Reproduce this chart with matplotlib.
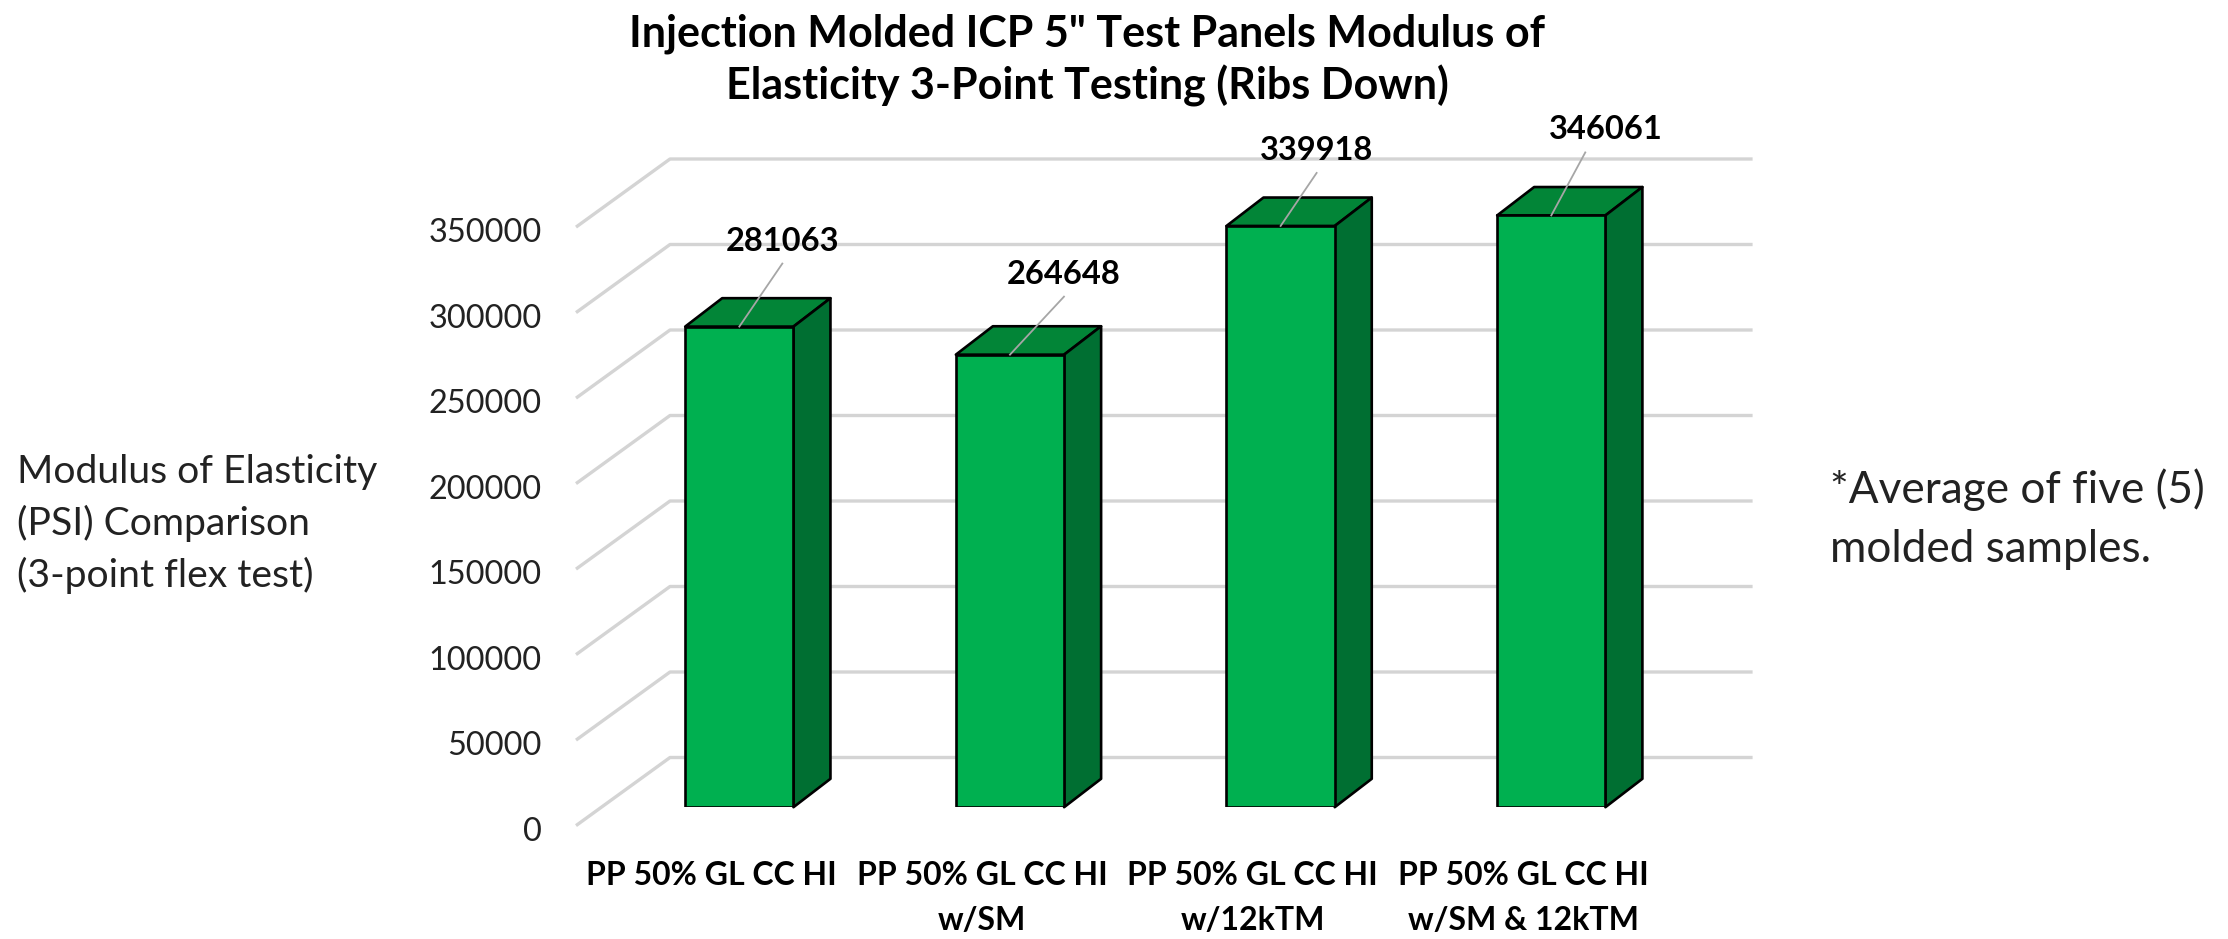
import matplotlib
matplotlib.use("Agg")
import matplotlib.pyplot as plt
from matplotlib.lines import Line2D
from matplotlib.patches import Polygon
from matplotlib.transforms import IdentityTransform, ScaledTranslation

plt.rcParams['font.family'] = ['Lato', 'DejaVu Sans']

# ---- data ----
categories = ['PP 50% GL CC HI', 'PP 50% GL CC HI\nw/SM',
              'PP 50% GL CC HI\nw/12kTM', 'PP 50% GL CC HI\nw/SM & 12kTM']
values = [281063, 264648, 339918, 346061]
y_ticks = [0, 50000, 100000, 150000, 200000, 250000, 300000, 350000]
title = 'Injection Molded ICP 5" Test Panels Modulus of\nElasticity 3-Point Testing (Ribs Down)'
y_note = ['Modulus of Elasticity', '(PSI) Comparison', '(3-point flex test)']
side_note = ['*Average of five (5)', 'molded samples.']

# ---- layout (pixels) ----
W, H = 2228, 939
DPI = 100
FRONT = (-28, -18.4)    # floor front edge relative to bar plane
BACK = (66, 49.7)       # back wall relative to bar plane
DEPTH = (37, 28.4)      # depth of the bars
LEADER = [(43, 63), (54, 58), (36, 53), (34, 63)]
LABEL = [(43, 85), (54, 80), (36, 75), (55, 86)]

fig = plt.figure(figsize=(W / DPI, H / DPI), dpi=DPI, facecolor='white')
ax_l, ax_r, ax_t, ax_b = 604, 1686.6, 208.7, 807.2
ax = fig.add_axes([ax_l / W, 1 - ax_b / H, (ax_r - ax_l) / W, (ax_b - ax_t) / H])
ax.set_xlim(-0.5, 3.5)
ax.set_ylim(0, 350000)
ax.patch.set_visible(False)
for s in ax.spines.values():
    s.set_visible(False)


def proj(x, v, shift=(0, 0)):
    px, py = ax.transData.transform((x, v))
    return px + shift[0], py + shift[1]


for t in y_ticks:
    a = proj(-0.5, t, FRONT)
    b = proj(-0.5, t, BACK)
    c = proj(3.5, t, BACK)
    ax.add_line(Line2D([a[0], b[0], c[0]], [a[1], b[1], c[1]], transform=IdentityTransform(),
                       color='#d4d4d4', lw=2.4, solid_capstyle='butt', zorder=0.5, clip_on=False))

xpos = list(range(len(categories)))
width = 0.4
EDGE = dict(edgecolor='black', linewidth=1.9)
ax.bar(xpos, values, width=width, color='#00B050', zorder=3, **EDGE)
for x, h in zip(xpos, values):
    l, r = x - width / 2, x + width / 2
    top = [proj(l, h), proj(r, h), proj(r, h, DEPTH), proj(l, h, DEPTH)]
    side = [proj(r, 0), proj(r, h), proj(r, h, DEPTH), proj(r, 0, DEPTH)]
    ax.add_patch(Polygon(top, closed=True, transform=IdentityTransform(), facecolor='#028537',
                         joinstyle='round', zorder=2.5, clip_on=False, **EDGE))
    ax.add_patch(Polygon(side, closed=True, transform=IdentityTransform(), facecolor='#006F32',
                         joinstyle='round', zorder=2.5, clip_on=False, **EDGE))

for x, h, ld, lb in zip(xpos, values, LEADER, LABEL):
    ax.add_line(Line2D(*zip(proj(x, h), proj(x, h, ld)), transform=IdentityTransform(),
                       color='#a6a6a6', lw=1.3, zorder=4, clip_on=False))
    ax.annotate(str(h), xy=(x, h), xytext=lb, textcoords='offset pixels', ha='center', va='center',
                fontsize=23.5, fontweight='bold', color='black', zorder=5, annotation_clip=False)

# axes ticks, shifted to the floor's front edge
ax.set_yticks(y_ticks)
ax.set_yticklabels([str(t) for t in y_ticks])
ax.tick_params(axis='y', length=0, pad=45, labelsize=23.4, labelcolor='#222222')
ax.set_xticks(xpos)
ax.set_xticklabels(categories)
ax.tick_params(axis='x', length=0, pad=39, labelsize=23)
for lab in ax.get_yticklabels():
    lab.set_transform(lab.get_transform() + ScaledTranslation(0, -21.4 / DPI, fig.dpi_scale_trans))
for lab in ax.get_xticklabels():
    lab.set_fontweight('bold')
    lab.set_linespacing(1.64)
    lab.set_transform(lab.get_transform() + ScaledTranslation(-28 / DPI, 0, fig.dpi_scale_trans))

fig.text(1087 / W, 1 - 60 / H, title, ha='center', va='center', fontsize=31, fontweight='bold',
         color='black', linespacing=1.31)
for txt, yy in zip(y_note, [472, 523, 575]):
    fig.text(17 / W, 1 - yy / H, txt, ha='left', va='center', fontsize=28.2, color='#222222')
for txt, yy in zip(side_note, [490, 549]):
    fig.text(1830 / W, 1 - yy / H, txt, ha='left', va='center', fontsize=31.8, color='#222222')

fig.savefig('out.png', dpi=DPI, facecolor='white')
